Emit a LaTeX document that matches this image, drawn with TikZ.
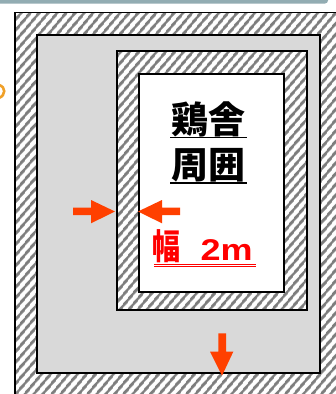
\documentclass[tikz,border=0pt]{standalone}
\usepackage{fontspec}
\setmainfont{Liberation Sans}
\newfontfamily\cjk{Noto Sans CJK JP}
\usetikzlibrary{patterns.meta}
\definecolor{hatchgray}{RGB}{125,125,125}
\definecolor{areagray}{RGB}{217,217,217}
\definecolor{arrowred}{RGB}{255,64,0}
\definecolor{barblue}{RGB}{146,172,178}
\definecolor{fragorange}{RGB}{240,160,40}
\tikzset{
  hatch/.style={pattern={Lines[angle=50,distance=6.5pt,line width=3pt]},pattern color=hatchgray},
  wall/.style={draw=black,line width=1.5pt},
  bigarrow/.style={fill=arrowred,draw=none},
  title/.style={font=\cjk\bfseries\fontsize{37}{40}\selectfont,inner sep=0pt,anchor=center},
}
\begin{document}
\begin{tikzpicture}[x=1pt,y=-1pt]
\useasboundingbox (0,0) rectangle (336,394);
\fill[white] (0,0) rectangle (336,394);
% top bar
\fill[barblue,rounded corners=3pt] (-10,-10) rectangle (328,3.5);
% orange fragment
\draw[fragorange,line width=2.6pt] (-1,85) .. controls (6,87) and (6,95) .. (-1,98);
% outer hatched band
\fill[white] (15,12.5) rectangle (340,400);
\fill[hatch] (15,12.5) rectangle (340,400);
\draw[wall] (15,400) -- (15,12.5) -- (340,12.5);
% gray area
\filldraw[wall,fill=areagray] (37,35) rectangle (320,373);
% inner hatched wall
\fill[white] (117,51) rectangle (307,310);
\fill[hatch] (117,51) rectangle (307,310);
\draw[wall] (117,51) rectangle (307,310);
% white coop
\filldraw[wall,fill=white] (139,74) rectangle (284,292);
% texts
\node[title] (t1) at (208.5,119) {鶏舎};
\node[title] (t2) at (208.5,165) {周囲};
\draw[line width=1.6pt] (t1.south west |- 0,137.5) ++(-1,0) -- (247,137.5);
\draw[line width=1.6pt] (t2.south west |- 0,183) ++(-1,0) -- (247,183);
\node[inner sep=0pt,anchor=base west,text=red] (w) at (152,259.5)
  {\scalebox{0.8}[1]{\cjk\bfseries\fontsize{35}{38}\selectfont 幅}\hspace{20.5pt}\raisebox{-1pt}{\scalebox{1.2}[1]{\fontsize{30}{34}\selectfont\bfseries 2m}}};
\draw[red,line width=0.9pt] (154,264.3) -- (256,264.3);
\draw[red,line width=0.9pt] (154,266.9) -- (256,266.9);
% arrows
\fill[bigarrow] (73,207.5) -- (91,207.5) -- (91,200) -- (115,211.5) -- (91,223.3) -- (91,215) -- (73,215) -- cycle;
\fill[bigarrow] (180,207.5) -- (162,207.5) -- (162,200) -- (138,211.5) -- (162,223.3) -- (162,215) -- (180,215) -- cycle;
\fill[bigarrow] (218.3,333.3) -- (226,333.3) -- (226,351.7) -- (233.3,351.7) -- (222,375.7) -- (210,351.7) -- (218.3,351.7) -- cycle;
\end{tikzpicture}
\end{document}
